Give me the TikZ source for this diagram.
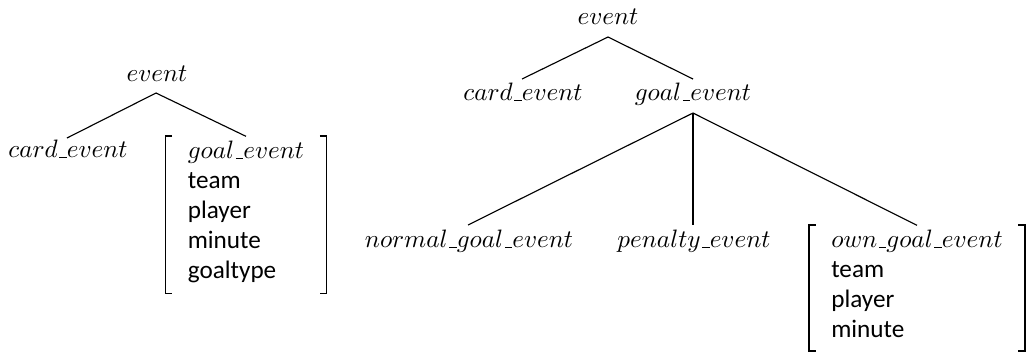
\documentclass[tikz,border=0pt]{standalone}
\usepackage{fontspec}
\setsansfont{Carlito}
\usetikzlibrary{calc}
\newcommand\usc{\kern.06em\lower.4pt\vbox{\hrule height .6pt width .3em}}
\begin{document}
\begin{tikzpicture}[x=0.397pt,y=-0.397pt,
  lbl/.style={inner sep=0pt, anchor=base},
  edge/.style={line width=0.45pt},
  brk/.style={line width=0.7pt},
  fbox/.style={inner xsep=8.7pt, inner ysep=0pt, anchor=base}]
\useasboundingbox (0,0) rectangle (1026,353);
% left tree
\node[lbl] (ev1) at (157,81) {$event$};
\node[lbl] (c1) at (68,157) {$card\usc event$};
\node[fbox] (g1) at (246,158) {\begin{tabular}[t]{@{}l@{}}$goal\usc event$\\ \sffamily team\\ \sffamily player\\ \sffamily minute\\ \sffamily goaltype\end{tabular}};
\draw[edge] ($(ev1.base)+(-1,12)$) -- ($(c1.base)+(-1,-19)$);
\draw[edge] ($(ev1.base)+(-1,12)$) -- (g1.north);
\draw[brk] ([xshift=2.7pt]g1.north west) -- (g1.north west) -- ([yshift=-2pt]g1.south west) -- ([xshift=2.7pt,yshift=-2pt]g1.south west);
\draw[brk] ([xshift=-2.7pt]g1.north east) -- (g1.north east) -- ([yshift=-2pt]g1.south east) -- ([xshift=-2.7pt,yshift=-2pt]g1.south east);
% right tree
\node[lbl] (ev2) at (608,24) {$event$};
\node[lbl] (c2) at (523,100) {$card\usc event$};
\node[lbl] (g2) at (693,100) {$goal\usc event$};
\node[lbl] (n) at (469,247) {$normal\usc goal\usc event$};
\node[lbl] (p) at (694,247) {$penalty\usc event$};
\node[fbox] (o) at (917,247) {\begin{tabular}[t]{@{}l@{}}$own\usc goal\usc event$\\ \sffamily team\\ \sffamily player\\ \sffamily minute\end{tabular}};
\draw[edge] ($(ev2.base)+(0,13)$) -- ($(c2.base)+(-1,-21)$);
\draw[edge] ($(ev2.base)+(0,13)$) -- ($(g2.base)+(0,-21)$);
\draw[edge] ($(g2.base)+(0,13)$) -- ($(n.base)+(-1,-22)$);
\draw[edge] ($(g2.base)+(0,13)$) -- ($(p.base)+(-1,-22)$);
\draw[edge] ($(g2.base)+(0,13)$) -- (o.north);
\draw[brk] ([xshift=2.7pt]o.north west) -- (o.north west) -- ([yshift=-1.5pt]o.south west) -- ([xshift=2.7pt,yshift=-1.5pt]o.south west);
\draw[brk] ([xshift=-2.7pt]o.north east) -- (o.north east) -- ([yshift=-1.5pt]o.south east) -- ([xshift=-2.7pt,yshift=-1.5pt]o.south east);
\end{tikzpicture}
\end{document}
